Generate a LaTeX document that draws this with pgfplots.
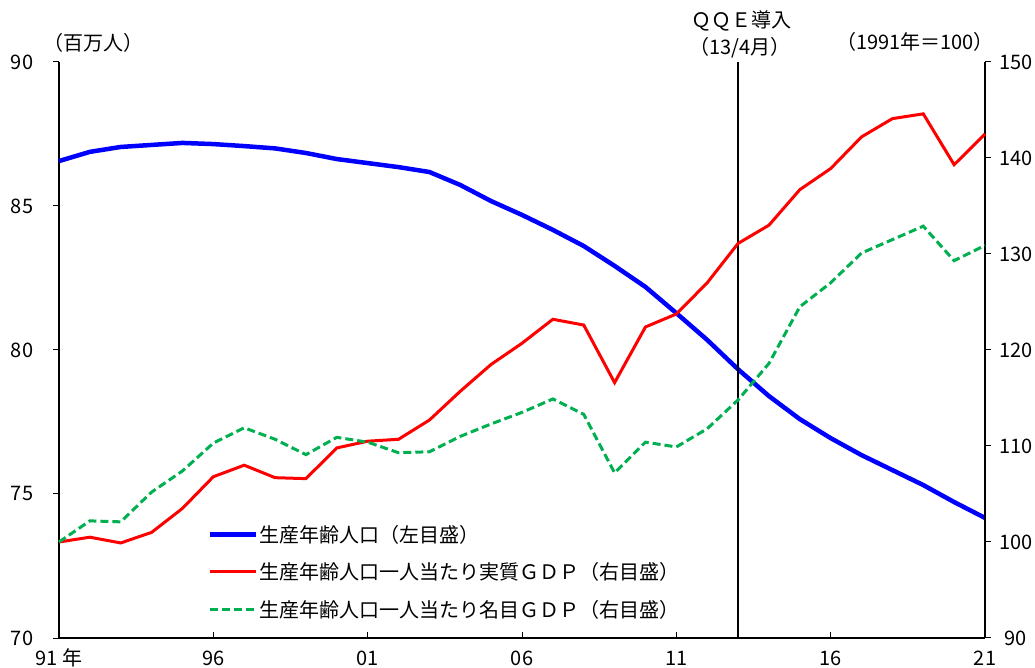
\documentclass[border=0pt]{standalone}
\usepackage{pgfplots}
\pgfplotsset{compat=1.18}
\usepackage{fontspec}
\setmainfont{Noto Sans CJK JP}
\definecolor{ggreen}{RGB}{0,176,80}
\begin{document}
\begin{tikzpicture}[font=\fontsize{20bp}{24bp}\selectfont]
\useasboundingbox (0,0) rectangle (1035bp,668bp);
\begin{axis}[
 at={(59bp,30bp)}, anchor=south west, scale only axis,
 width=926bp, height=576bp,
 xmin=1991, xmax=2021, ymin=70, ymax=90,
 axis x line*=bottom, axis y line*=left,
 axis line style={line width=1.2bp, black},
 xtick={1991,1996,2001,2006,2011,2016,2021},
 xticklabels={91 年,96,01,06,11,16,21},
 ytick={70,75,80,85,90},
 major tick length=6bp,
 xtick align=inside, ytick align=outside,
 tick style={line width=1bp, black},
 /pgf/number format/assume math mode=true,
 tick label style={font=\fontsize{20bp}{24bp}\selectfont},
 xticklabel style={anchor=base, yshift=-27bp},
 yticklabel style={anchor=center, xshift=-31bp},
 clip=false,
]
\addplot[blue, line width=4.5bp] coordinates {
(1991,86.56) (1992,86.88) (1993,87.05) (1994,87.12) (1995,87.19)
(1996,87.15) (1997,87.08) (1998,87.00) (1999,86.84) (2000,86.63)
(2001,86.49) (2002,86.35) (2003,86.18) (2004,85.73) (2005,85.17)
(2006,84.69) (2007,84.17) (2008,83.61) (2009,82.92) (2010,82.19)
(2011,81.28) (2012,80.35) (2013,79.33) (2014,78.40) (2015,77.60)
(2016,76.94) (2017,76.35) (2018,75.83) (2019,75.31) (2020,74.72)
(2021,74.17)};
\addplot[black, line width=1.2bp] coordinates {(2013,70) (2013,90)};
\end{axis}
\begin{axis}[
 at={(59bp,30bp)}, anchor=south west, scale only axis,
 width=926bp, height=576bp,
 xmin=1991, xmax=2021, ymin=90, ymax=150,
 axis x line=none, axis y line*=right,
 axis line style={line width=1.2bp, black},
 ytick={90,100,110,120,130,140,150},
 major tick length=6bp,
 ytick align=outside,
 tick style={line width=1bp, black},
 /pgf/number format/assume math mode=true,
 tick label style={font=\fontsize{20bp}{24bp}\selectfont},
 yticklabel style={anchor=center, xshift=25bp},
 clip=false,
 legend style={at={(rel axis cs:0.16,0.2)}, anchor=north west, draw=none, fill=none,
   inner sep=0pt, row sep=15bp, font=\fontsize{20bp}{24bp}\selectfont,
   nodes={inner sep=2bp}},
 legend cell align=left,
 legend image code/.code={\draw[#1] (0bp,0bp) -- (46bp,0bp);},
]
\addlegendimage{blue, line width=4.5bp}
\addlegendentry{生産年齢人口（左目盛）}
\addplot[red, line width=3bp] coordinates {
(1991,100.0) (1992,100.5) (1993,99.9) (1994,101.0) (1995,103.5)
(1996,106.8) (1997,108.0) (1998,106.7) (1999,106.6) (2000,109.8)
(2001,110.5) (2002,110.7) (2003,112.7) (2004,115.7) (2005,118.5)
(2006,120.7) (2007,123.2) (2008,122.6) (2009,116.6) (2010,122.4)
(2011,123.75) (2012,127.0) (2013,131.1) (2014,133.0) (2015,136.7)
(2016,138.9) (2017,142.2) (2018,144.1) (2019,144.6) (2020,139.3)
(2021,142.5)};
\addlegendentry{生産年齢人口一人当たり実質ＧＤＰ（右目盛）}
\addplot[ggreen, line width=3bp, dash pattern=on 8bp off 4bp] coordinates {
(1991,100.0) (1992,102.2) (1993,102.1) (1994,105.2) (1995,107.4)
(1996,110.3) (1997,111.9) (1998,110.7) (1999,109.1) (2000,110.9)
(2001,110.4) (2002,109.3) (2003,109.4) (2004,111.0) (2005,112.3)
(2006,113.5) (2007,114.9) (2008,113.3) (2009,107.2) (2010,110.4)
(2011,109.9) (2012,111.8) (2013,114.8) (2014,118.6) (2015,124.5)
(2016,127.0) (2017,130.1) (2018,131.5) (2019,132.9) (2020,129.3)
(2021,130.9)};
\addlegendentry{生産年齢人口一人当たり名目ＧＤＰ（右目盛）}
\end{axis}
\node at (93bp,625bp) {（百万人）};
\node at (741bp,647bp) {ＱＱＥ導入};
\node at (740bp,620bp) {（13/4月）};
\node at (915bp,626bp) {（1991年＝100）};
\end{tikzpicture}
\end{document}
